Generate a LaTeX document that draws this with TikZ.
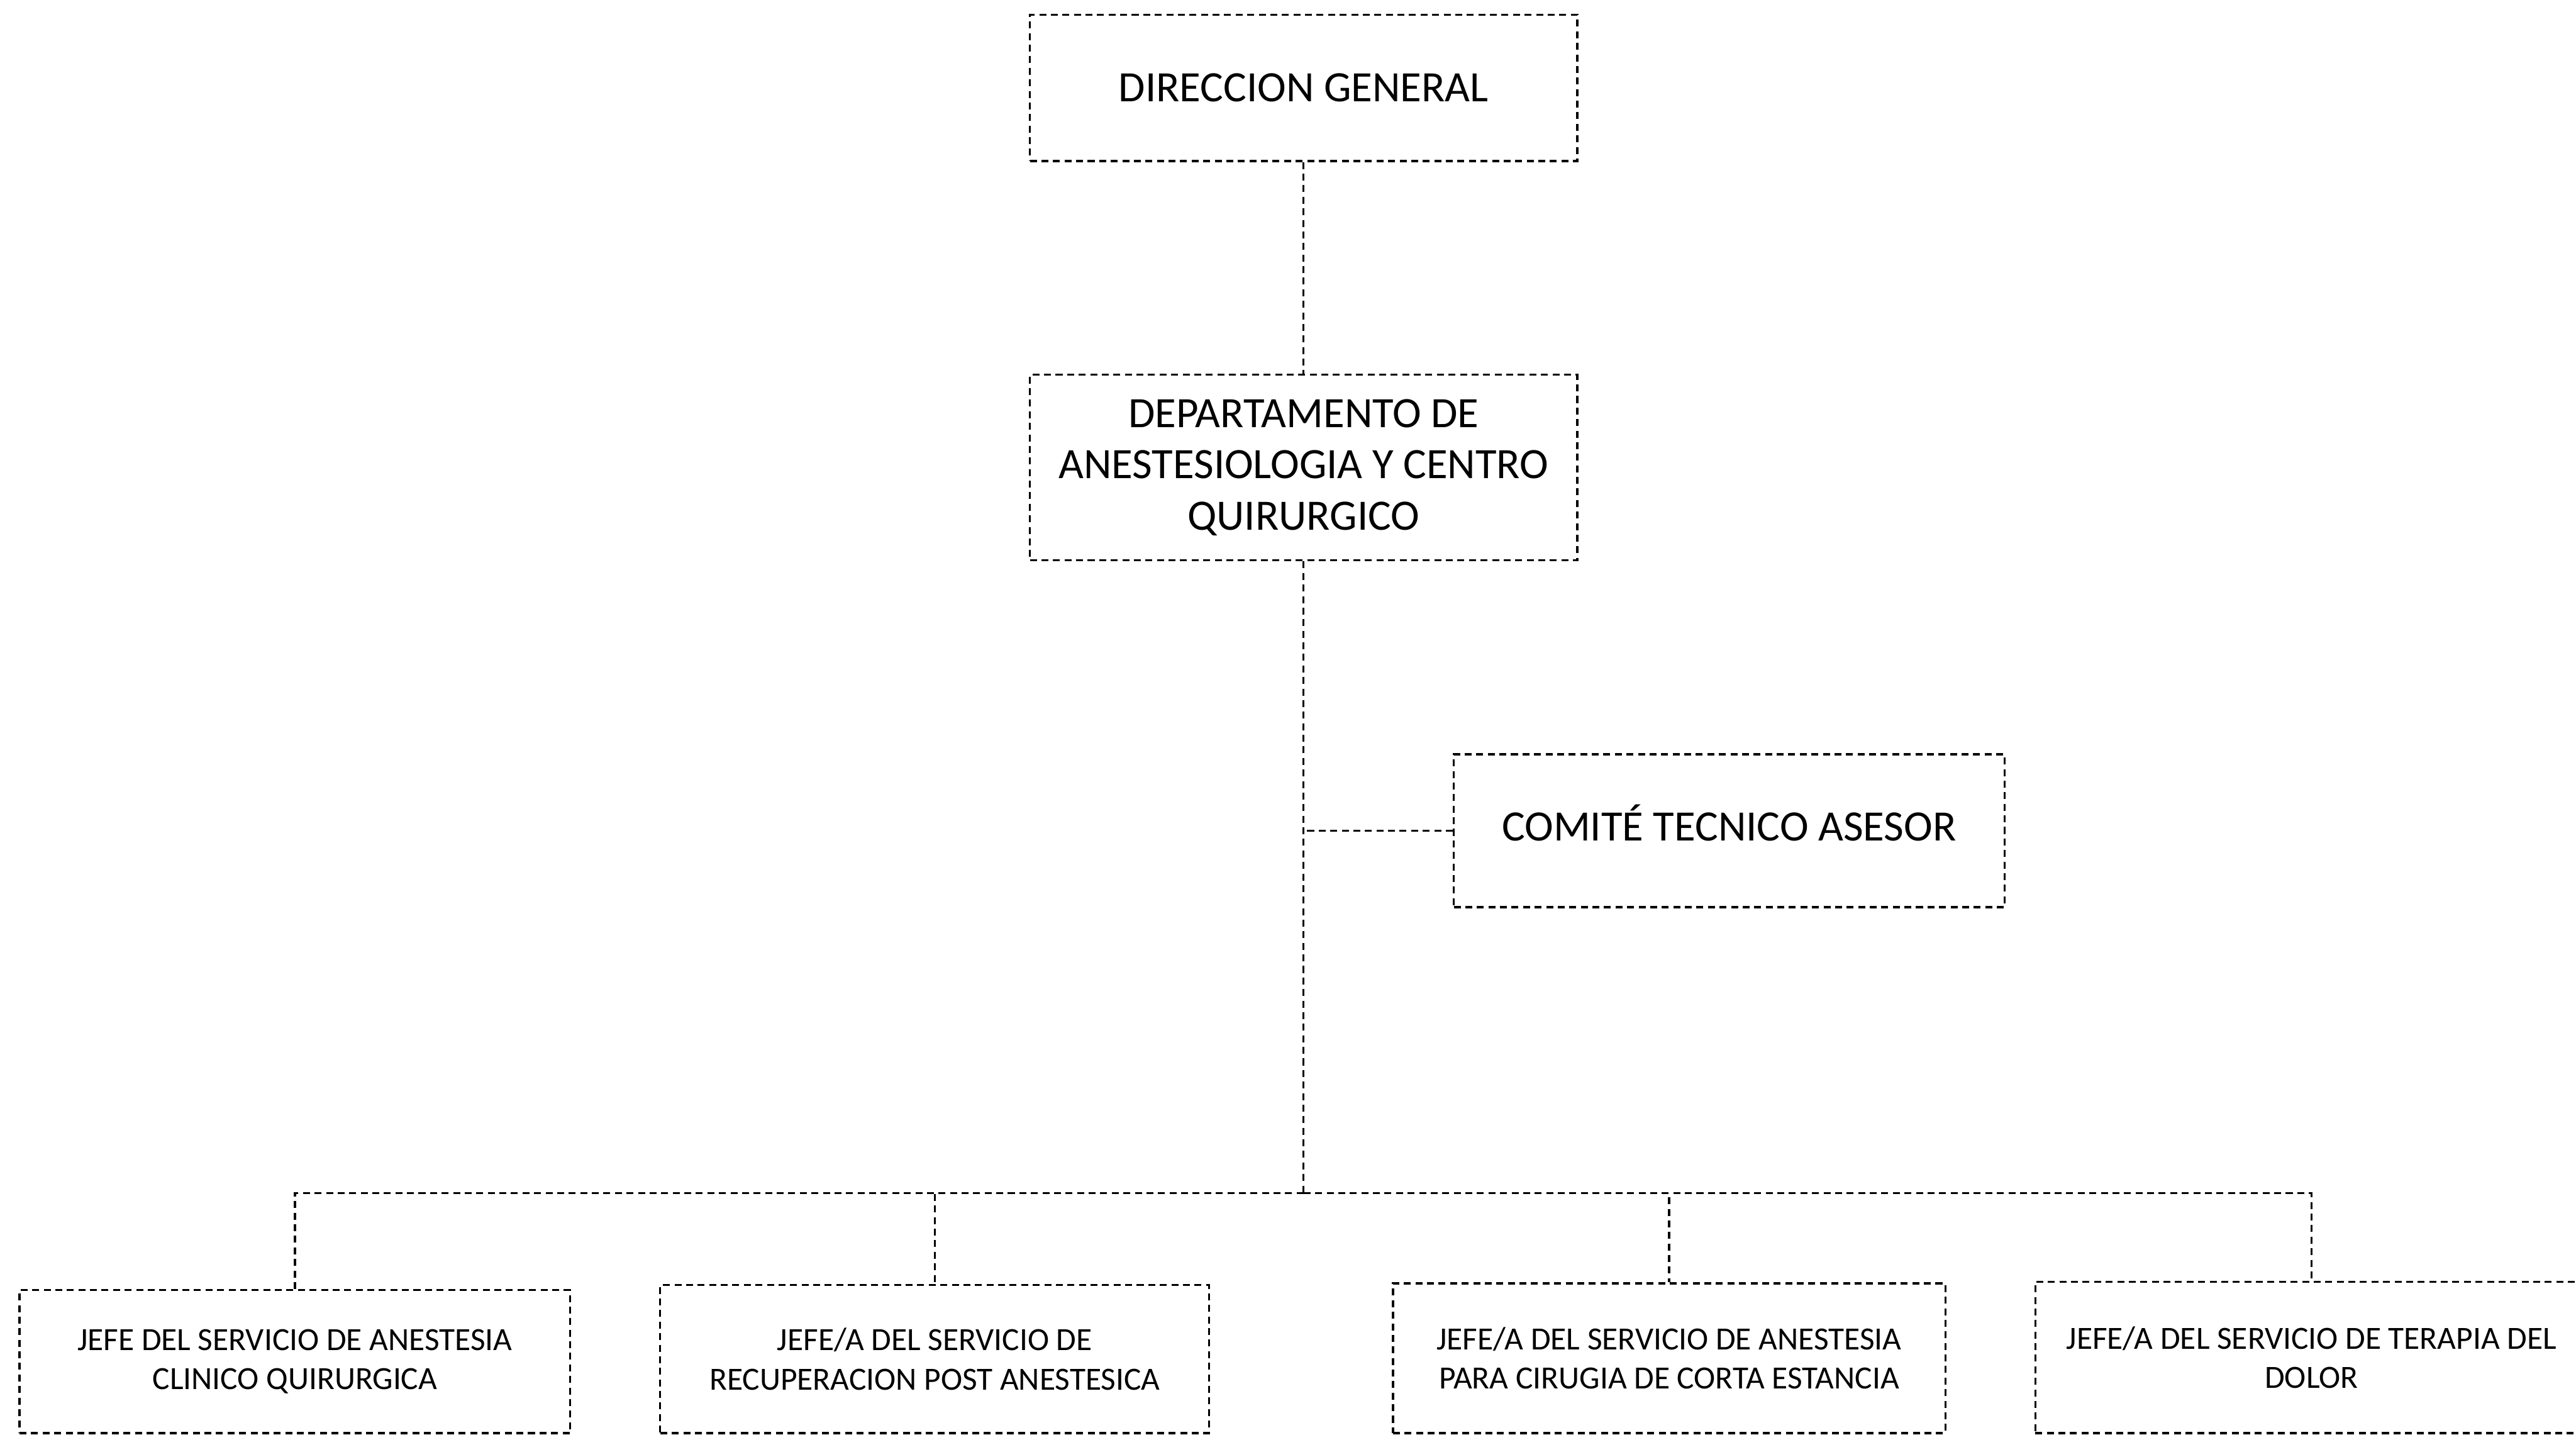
\documentclass[tikz,border=0pt]{standalone}
\usepackage{fontspec}
\setmainfont{Carlito}
\begin{document}
\begin{tikzpicture}[x=0.01cm,y=-0.01cm,
  box/.style={draw, line width=0.35pt, dash pattern=on 1.2pt off 0.8pt, inner sep=0pt, align=center, font=\fontsize{7.5}{8.9}\selectfont},
  sbox/.style={box, font=\fontsize{5.6}{6.8}\selectfont},
  link/.style={line width=0.35pt, dash pattern=on 1.2pt off 0.8pt}]
\useasboundingbox (0,0) rectangle (1568,873);
\clip (0,0) rectangle (1568,873);
\node[box, minimum width=3.33cm, minimum height=0.89cm] (dg) at (793.5,53.5) {DIRECCION GENERAL};
\node[box, minimum width=3.33cm, minimum height=1.13cm] (dep) at (793.5,284.5) {DEPARTAMENTO DE\\ANESTESIOLOGIA Y CENTRO\\QUIRURGICO};
\node[box, minimum width=3.35cm, minimum height=0.93cm] (com) at (1052.5,505.5) {\raisebox{0.1cm}{COMITÉ TECNICO ASESOR}};
\node[sbox, minimum width=3.35cm, minimum height=0.87cm] (j1) at (179.5,828.5) {JEFE DEL SERVICIO DE ANESTESIA\\CLINICO QUIRURGICA};
\node[sbox, minimum width=3.34cm, minimum height=0.90cm] (j2) at (569,827) {JEFE/A DEL SERVICIO DE\\RECUPERACION POST ANESTESICA};
\node[sbox, minimum width=3.36cm, minimum height=0.91cm] (j3) at (1016,826.5) {JEFE/A DEL SERVICIO DE ANESTESIA\\PARA CIRUGIA DE CORTA ESTANCIA};
\node[sbox, minimum width=3.36cm, minimum height=0.92cm] (j4) at (1407,826) {JEFE/A DEL SERVICIO DE TERAPIA DEL\\DOLOR};
\coordinate (bus) at (793.5,726);
\draw[link] (dg.south) -- (dep.north);
\draw[link] (dep.south) -- (bus);
\draw[link] (com.west) -- (com.west -| dep.south);
\draw[link] (bus) -| (j1.north);
\draw[link] (bus) -| (j2.north);
\draw[link] (bus) -| (j3.north);
\draw[link] (bus) -| (j4.north);
\end{tikzpicture}
\end{document}
